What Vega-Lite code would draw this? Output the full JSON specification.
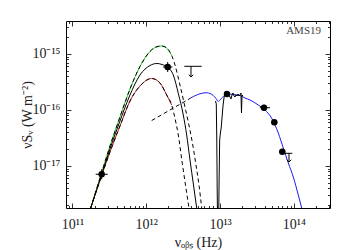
{
  "$schema": "https://vega.github.io/schema/vega-lite/v6.json",
  "width": 264,
  "height": 187,
  "autosize": {"type": "none"},
  "padding": {"left": 66, "top": 21, "right": 20, "bottom": 42},
  "background": "white",
  "config": {
    "view": {"stroke": "black", "strokeWidth": 1},
    "font": "Liberation Serif",
    "axis": {
      "labelFont": "Liberation Serif", "labelFontSize": 14, "labelColor": "#222222",
      "titleFont": "Liberation Serif", "titleFontSize": 14, "titleFontWeight": "normal", "titleColor": "#222222",
      "domain": false, "grid": false, "tickColor": "black", "tickWidth": 0.8,
      "labelOverlap": false, "labelFlush": false
    }
  },
  "datasets": {
    "green": [
      {"nu": 1.765e11, "s": 1.778e-18}, {"nu": 2.487e11, "s": 7.654e-18}, {"nu": 3.222e11, "s": 2.276e-17},
      {"nu": 4.402e11, "s": 7.50e-17}, {"nu": 6.014e11, "s": 2.371e-16}, {"nu": 8.216e11, "s": 5.981e-16},
      {"nu": 1.122e12, "s": 1.108e-15}, {"nu": 1.353e12, "s": 1.334e-15}, {"nu": 1.617e12, "s": 1.390e-15},
      {"nu": 1.849e12, "s": 1.306e-15}, {"nu": 2.195e12, "s": 9.596e-16}
    ],
    "greenDash": [
      {"nu": 1.765e11, "s": 1.778e-18}, {"nu": 2.487e11, "s": 7.654e-18}, {"nu": 3.222e11, "s": 2.276e-17},
      {"nu": 4.402e11, "s": 7.50e-17}, {"nu": 6.014e11, "s": 2.371e-16}, {"nu": 8.216e11, "s": 5.981e-16},
      {"nu": 1.122e12, "s": 1.108e-15}, {"nu": 1.353e12, "s": 1.334e-15}, {"nu": 1.617e12, "s": 1.390e-15},
      {"nu": 1.849e12, "s": 1.306e-15}, {"nu": 2.195e12, "s": 9.596e-16}, {"nu": 2.448e12, "s": 6.362e-16},
      {"nu": 2.861e12, "s": 2.795e-16}, {"nu": 3.345e12, "s": 1.131e-16}, {"nu": 3.731e12, "s": 5.86e-17},
      {"nu": 4.161e12, "s": 2.853e-17}, {"nu": 4.715e12, "s": 1.042e-17}, {"nu": 5.177e12, "s": 4.578e-18},
      {"nu": 5.632e12, "s": 1.778e-18}
    ],
    "red": [
      {"nu": 1.765e11, "s": 1.778e-18}, {"nu": 2.487e11, "s": 6.767e-18}, {"nu": 3.222e11, "s": 1.778e-17},
      {"nu": 4.402e11, "s": 5.18e-17}, {"nu": 6.014e11, "s": 1.448e-16}, {"nu": 8.216e11, "s": 2.683e-16},
      {"nu": 1.184e12, "s": 3.652e-16}, {"nu": 1.533e12, "s": 3.034e-16}, {"nu": 1.890e12, "s": 1.853e-16},
      {"nu": 2.209e12, "s": 1.228e-16}
    ],
    "redDash": [
      {"nu": 1.765e11, "s": 1.778e-18}, {"nu": 2.487e11, "s": 6.767e-18}, {"nu": 3.222e11, "s": 1.778e-17},
      {"nu": 4.402e11, "s": 5.18e-17}, {"nu": 6.014e11, "s": 1.448e-16}, {"nu": 8.216e11, "s": 2.683e-16},
      {"nu": 1.184e12, "s": 3.652e-16}, {"nu": 1.533e12, "s": 3.034e-16}, {"nu": 1.890e12, "s": 1.853e-16},
      {"nu": 2.209e12, "s": 1.228e-16}, {"nu": 2.448e12, "s": 7.11e-17}, {"nu": 2.714e12, "s": 3.58e-17},
      {"nu": 3.075e12, "s": 1.117e-17}, {"nu": 3.398e12, "s": 4.578e-18}, {"nu": 3.790e12, "s": 1.778e-18}
    ],
    "black": [
      {"nu": 1.765e11, "s": 1.778e-18}, {"nu": 2.487e11, "s": 7.109e-18}, {"nu": 3.222e11, "s": 2.012e-17},
      {"nu": 4.402e11, "s": 6.36e-17}, {"nu": 6.014e11, "s": 1.853e-16}, {"nu": 8.216e11, "s": 4.217e-16},
      {"nu": 1.122e12, "s": 6.232e-16}, {"nu": 1.396e12, "s": 6.767e-16}, {"nu": 1.632e12, "s": 6.494e-16},
      {"nu": 1.950e12, "s": 5.787e-16}, {"nu": 2.322e12, "s": 4.217e-16}, {"nu": 2.714e12, "s": 1.987e-16},
      {"nu": 3.173e12, "s": 8.14e-17}, {"nu": 3.527e12, "s": 3.58e-17}, {"nu": 3.910e12, "s": 1.280e-17},
      {"nu": 4.361e12, "s": 4.578e-18}, {"nu": 4.819e12, "s": 1.778e-18}
    ],
    "pl": [
      {"nu": 1.184e12, "s": 6.49e-17}, {"nu": 3.910e12, "s": 1.605e-16}
    ],
    "blue": [
      {"nu": 3.910e12, "s": 1.618e-16}, {"nu": 4.819e12, "s": 1.853e-16}, {"nu": 5.510e12, "s": 1.970e-16},
      {"nu": 6.582e12, "s": 2.037e-16}, {"nu": 7.297e12, "s": 1.970e-16}, {"nu": 8.089e12, "s": 1.815e-16},
      {"nu": 8.800e12, "s": 1.605e-16}, {"nu": 9.455e12, "s": 1.418e-16}, {"nu": 9.968e12, "s": 1.509e-16},
      {"nu": 1.0512e13, "s": 1.618e-16}, {"nu": 1.165e13, "s": 1.853e-16}, {"nu": 1.320e13, "s": 1.931e-16},
      {"nu": 1.510e13, "s": 1.891e-16}, {"nu": 1.860e13, "s": 1.815e-16}, {"nu": 2.175e13, "s": 1.637e-16},
      {"nu": 2.542e13, "s": 1.509e-16}, {"nu": 3.293e13, "s": 1.228e-16}, {"nu": 4.059e13, "s": 1.0e-16},
      {"nu": 5.003e13, "s": 7.11e-17}, {"nu": 6.146e13, "s": 3.88e-17}, {"nu": 7.185e13, "s": 2.097e-17},
      {"nu": 8.398e13, "s": 1.131e-17}, {"nu": 9.815e13, "s": 6.362e-18}, {"nu": 1.147e14, "s": 3.034e-18},
      {"nu": 1.275e14, "s": 1.778e-18}
    ],
    "spec": [
      {"nu": 8.665e12, "s": 1.448e-16}, {"nu": 8.883e12, "s": 1.280e-16}, {"nu": 9.023e12, "s": 2.912e-17},
      {"nu": 9.136e12, "s": 3.727e-18}, {"nu": 9.222e12, "s": 1.334e-18}, {"nu": 9.573e12, "s": 1.334e-18},
      {"nu": 9.723e12, "s": 6.906e-18}, {"nu": 9.876e12, "s": 2.912e-17}, {"nu": 1.0125e13, "s": 4.047e-17},
      {"nu": 1.0349e13, "s": 4.77e-17}, {"nu": 1.061e13, "s": 7.20e-17}, {"nu": 1.0947e13, "s": 1.179e-16},
      {"nu": 1.129e13, "s": 1.637e-16}, {"nu": 1.165e13, "s": 2.012e-16}, {"nu": 1.202e13, "s": 2.184e-16},
      {"nu": 1.240e13, "s": 1.931e-16}, {"nu": 1.279e13, "s": 1.778e-16}, {"nu": 1.320e13, "s": 1.931e-16},
      {"nu": 1.362e13, "s": 1.706e-16}, {"nu": 1.405e13, "s": 1.572e-16}, {"nu": 1.449e13, "s": 1.853e-16},
      {"nu": 1.496e13, "s": 2.012e-16}, {"nu": 1.543e13, "s": 1.778e-16}, {"nu": 1.592e13, "s": 1.706e-16},
      {"nu": 1.642e13, "s": 1.853e-16}, {"nu": 1.694e13, "s": 1.778e-16}, {"nu": 1.748e13, "s": 1.931e-16},
      {"nu": 1.804e13, "s": 1.778e-16}, {"nu": 1.860e13, "s": 1.853e-16}, {"nu": 1.919e13, "s": 2.012e-16},
      {"nu": 1.950e13, "s": 8.84e-17}, {"nu": 1.981e13, "s": 1.853e-16}, {"nu": 2.043e13, "s": 1.778e-16}
    ],
    "pts": [
      {"nu": 2.487e11, "s": 7.109e-18, "nu_lo": 2.063e11, "nu_hi": 2.999e11, "s_lo": 5.787e-18, "s_hi": 8.731e-18},
      {"nu": 1.950e12, "s": 5.860e-16, "nu_lo": 1.684e12, "nu_hi": 2.258e12, "s_lo": 4.771e-16, "s_hi": 7.197e-16},
      {"nu": 1.240e13, "s": 1.931e-16, "nu_lo": 1.129e13, "nu_hi": 1.362e13, "s_lo": 1.706e-16, "s_hi": 2.184e-16},
      {"nu": 3.935e13, "s": 1.099e-16, "nu_lo": 3.473e13, "nu_hi": 4.745e13, "s_lo": 9.72e-17, "s_hi": 1.243e-16},
      {"nu": 5.426e13, "s": 6.03e-17, "nu_lo": 4.940e13, "nu_hi": 5.958e13, "s_lo": 5.33e-17, "s_hi": 6.82e-17},
      {"nu": 6.964e13, "s": 1.800e-17, "nu_lo": 6.341e13, "nu_hi": 7.646e13, "s_lo": 1.591e-17, "s_hi": 2.037e-17}
    ],
    "ul": [
      {"nu": 4.034e12, "s": 6.031e-16, "nu_lo": 3.273e12, "nu_hi": 5.632e12, "s_tip": 3.884e-16},
      {"nu": 8.584e13, "s": 1.685e-17, "nu_lo": 7.458e13, "nu_hi": 9.513e13, "s_tip": 1.179e-17}
    ],
    "label": [
      {"nu": 2.33e14, "s": 2.576e-15, "text": "AMS19"}
    ]
  },
  "layer": [
    {
      "data": {"name": "green"},
      "mark": {"type": "line", "color": "#1fcc1f", "strokeWidth": 1, "interpolate": "monotone", "clip": true},
      "encoding": {
        "x": {"field": "nu", "type": "quantitative", "scale": {"type": "log", "domain": [8.17e10, 3.085e14], "nice": false}, "axis": null},
        "y": {"field": "s", "type": "quantitative", "scale": {"type": "log", "domain": [1.778e-18, 3.884e-15], "nice": false}, "axis": null}
      }
    },
    {
      "data": {"name": "red"},
      "mark": {"type": "line", "color": "#c21f1f", "strokeWidth": 1, "interpolate": "monotone", "clip": true},
      "encoding": {
        "x": {"field": "nu", "type": "quantitative", "scale": {"type": "log", "domain": [8.17e10, 3.085e14], "nice": false}, "axis": null},
        "y": {"field": "s", "type": "quantitative", "scale": {"type": "log", "domain": [1.778e-18, 3.884e-15], "nice": false}, "axis": null}
      }
    },
    {
      "data": {"name": "greenDash"},
      "mark": {"type": "line", "color": "black", "strokeWidth": 1, "strokeDash": [4, 3], "interpolate": "monotone", "clip": true},
      "encoding": {
        "x": {"field": "nu", "type": "quantitative", "scale": {"type": "log", "domain": [8.17e10, 3.085e14], "nice": false}, "axis": null},
        "y": {"field": "s", "type": "quantitative", "scale": {"type": "log", "domain": [1.778e-18, 3.884e-15], "nice": false}, "axis": null}
      }
    },
    {
      "data": {"name": "redDash"},
      "mark": {"type": "line", "color": "black", "strokeWidth": 1, "strokeDash": [4, 3], "interpolate": "monotone", "clip": true},
      "encoding": {
        "x": {"field": "nu", "type": "quantitative", "scale": {"type": "log", "domain": [8.17e10, 3.085e14], "nice": false}, "axis": null},
        "y": {"field": "s", "type": "quantitative", "scale": {"type": "log", "domain": [1.778e-18, 3.884e-15], "nice": false}, "axis": null}
      }
    },
    {
      "data": {"name": "black"},
      "mark": {"type": "line", "color": "black", "strokeWidth": 1, "interpolate": "monotone", "clip": true},
      "encoding": {
        "x": {"field": "nu", "type": "quantitative", "scale": {"type": "log", "domain": [8.17e10, 3.085e14], "nice": false},
          "axis": {
            "orient": "bottom",
            "values": [9e10, 1e11, 2e11, 3e11, 4e11, 5e11, 6e11, 7e11, 8e11, 9e11, 1e12, 2e12, 3e12, 4e12, 5e12, 6e12, 7e12, 8e12, 9e12, 1e13, 2e13, 3e13, 4e13, 5e13, 6e13, 7e13, 8e13, 9e13, 1e14, 2e14, 3e14],
            "labelExpr": "datum.value == 1e11 ? '10¹¹' : datum.value == 1e12 ? '10¹²' : datum.value == 1e13 ? '10¹³' : datum.value == 1e14 ? '10¹⁴' : ''",
            "tickSize": {"condition": {"test": "datum.value == 1e11 || datum.value == 1e12 || datum.value == 1e13 || datum.value == 1e14", "value": -5}, "value": -2.5},
            "labelPadding": 14,
            "title": "νₒᵦₛ (Hz)",
            "titlePadding": 2
          }
        },
        "y": {"field": "s", "type": "quantitative", "scale": {"type": "log", "domain": [1.778e-18, 3.884e-15], "nice": false},
          "axis": {
            "orient": "left",
            "values": [2e-18, 3e-18, 4e-18, 5e-18, 6e-18, 7e-18, 8e-18, 9e-18, 1e-17, 2e-17, 3e-17, 4e-17, 5e-17, 6e-17, 7e-17, 8e-17, 9e-17, 1e-16, 2e-16, 3e-16, 4e-16, 5e-16, 6e-16, 7e-16, 8e-16, 9e-16, 1e-15, 2e-15, 3e-15],
            "labelExpr": "datum.value == 1e-15 ? '10⁻¹⁵' : datum.value == 1e-16 ? '10⁻¹⁶' : datum.value == 1e-17 ? '10⁻¹⁷' : ''",
            "tickSize": {"condition": {"test": "datum.value == 1e-15 || datum.value == 1e-16 || datum.value == 1e-17", "value": -5}, "value": -2.5},
            "labelPadding": 11,
            "labelBaseline": "middle",
            "title": "νSᵥ (W m⁻²)",
            "titlePadding": -3
          }
        }
      }
    },
    {
      "data": {"name": "pl"},
      "mark": {"type": "line", "color": "black", "strokeWidth": 1, "strokeDash": [4, 3], "clip": true},
      "encoding": {
        "x": {"field": "nu", "type": "quantitative", "scale": {"type": "log", "domain": [8.17e10, 3.085e14], "nice": false}, "axis": null},
        "y": {"field": "s", "type": "quantitative", "scale": {"type": "log", "domain": [1.778e-18, 3.884e-15], "nice": false}, "axis": null}
      }
    },
    {
      "data": {"name": "blue"},
      "mark": {"type": "line", "color": "#1a1aee", "strokeWidth": 1, "interpolate": "monotone", "clip": true},
      "encoding": {
        "x": {"field": "nu", "type": "quantitative", "scale": {"type": "log", "domain": [8.17e10, 3.085e14], "nice": false},
          "axis": {
            "orient": "top",
            "values": [9e10, 1e11, 2e11, 3e11, 4e11, 5e11, 6e11, 7e11, 8e11, 9e11, 1e12, 2e12, 3e12, 4e12, 5e12, 6e12, 7e12, 8e12, 9e12, 1e13, 2e13, 3e13, 4e13, 5e13, 6e13, 7e13, 8e13, 9e13, 1e14, 2e14, 3e14],
            "labels": false,
            "tickSize": {"condition": {"test": "datum.value == 1e11 || datum.value == 1e12 || datum.value == 1e13 || datum.value == 1e14", "value": -5}, "value": -2.5},
            "title": null
          }
        },
        "y": {"field": "s", "type": "quantitative", "scale": {"type": "log", "domain": [1.778e-18, 3.884e-15], "nice": false},
          "axis": {
            "orient": "right",
            "values": [2e-18, 3e-18, 4e-18, 5e-18, 6e-18, 7e-18, 8e-18, 9e-18, 1e-17, 2e-17, 3e-17, 4e-17, 5e-17, 6e-17, 7e-17, 8e-17, 9e-17, 1e-16, 2e-16, 3e-16, 4e-16, 5e-16, 6e-16, 7e-16, 8e-16, 9e-16, 1e-15, 2e-15, 3e-15],
            "labels": false,
            "tickSize": {"condition": {"test": "datum.value == 1e-15 || datum.value == 1e-16 || datum.value == 1e-17", "value": -5}, "value": -2.5},
            "title": null
          }
        }
      }
    },
    {
      "data": {"name": "spec"},
      "mark": {"type": "line", "color": "black", "strokeWidth": 1, "clip": true},
      "encoding": {
        "x": {"field": "nu", "type": "quantitative", "scale": {"type": "log", "domain": [8.17e10, 3.085e14], "nice": false}, "axis": null},
        "y": {"field": "s", "type": "quantitative", "scale": {"type": "log", "domain": [1.778e-18, 3.884e-15], "nice": false}, "axis": null}
      }
    },
    {
      "data": {"name": "pts"},
      "mark": {"type": "rule", "color": "black", "strokeWidth": 1},
      "encoding": {
        "x": {"field": "nu_lo", "type": "quantitative", "scale": {"type": "log", "domain": [8.17e10, 3.085e14], "nice": false}, "axis": null},
        "x2": {"field": "nu_hi"},
        "y": {"field": "s", "type": "quantitative", "scale": {"type": "log", "domain": [1.778e-18, 3.884e-15], "nice": false}, "axis": null}
      }
    },
    {
      "data": {"name": "pts"},
      "mark": {"type": "rule", "color": "black", "strokeWidth": 1},
      "encoding": {
        "x": {"field": "nu", "type": "quantitative", "scale": {"type": "log", "domain": [8.17e10, 3.085e14], "nice": false}, "axis": null},
        "y": {"field": "s_lo", "type": "quantitative", "scale": {"type": "log", "domain": [1.778e-18, 3.884e-15], "nice": false}, "axis": null},
        "y2": {"field": "s_hi"}
      }
    },
    {
      "data": {"name": "pts"},
      "mark": {"type": "point", "shape": "circle", "filled": true, "color": "black", "opacity": 1, "size": 42},
      "encoding": {
        "x": {"field": "nu", "type": "quantitative", "scale": {"type": "log", "domain": [8.17e10, 3.085e14], "nice": false}, "axis": null},
        "y": {"field": "s", "type": "quantitative", "scale": {"type": "log", "domain": [1.778e-18, 3.884e-15], "nice": false}, "axis": null}
      }
    },
    {
      "data": {"name": "ul"},
      "mark": {"type": "rule", "color": "black", "strokeWidth": 1},
      "encoding": {
        "x": {"field": "nu_lo", "type": "quantitative", "scale": {"type": "log", "domain": [8.17e10, 3.085e14], "nice": false}, "axis": null},
        "x2": {"field": "nu_hi"},
        "y": {"field": "s", "type": "quantitative", "scale": {"type": "log", "domain": [1.778e-18, 3.884e-15], "nice": false}, "axis": null}
      }
    },
    {
      "data": {"name": "ul"},
      "mark": {"type": "rule", "color": "black", "strokeWidth": 1},
      "encoding": {
        "x": {"field": "nu", "type": "quantitative", "scale": {"type": "log", "domain": [8.17e10, 3.085e14], "nice": false}, "axis": null},
        "y": {"field": "s", "type": "quantitative", "scale": {"type": "log", "domain": [1.778e-18, 3.884e-15], "nice": false}, "axis": null},
        "y2": {"field": "s_tip"}
      }
    },
    {
      "data": {"name": "ul"},
      "mark": {"type": "point", "shape": "M-1,-1L0,0L1,-1", "filled": false, "color": "black", "strokeWidth": 1, "opacity": 1, "size": 20},
      "encoding": {
        "x": {"field": "nu", "type": "quantitative", "scale": {"type": "log", "domain": [8.17e10, 3.085e14], "nice": false}, "axis": null},
        "y": {"field": "s_tip", "type": "quantitative", "scale": {"type": "log", "domain": [1.778e-18, 3.884e-15], "nice": false}, "axis": null}
      }
    },
    {
      "data": {"name": "label"},
      "mark": {"type": "text", "font": "Liberation Serif", "fontSize": 11, "align": "right", "baseline": "middle", "color": "#444444"},
      "encoding": {
        "x": {"field": "nu", "type": "quantitative", "scale": {"type": "log", "domain": [8.17e10, 3.085e14], "nice": false}, "axis": null},
        "y": {"field": "s", "type": "quantitative", "scale": {"type": "log", "domain": [1.778e-18, 3.884e-15], "nice": false}, "axis": null},
        "text": {"field": "text"}
      }
    }
  ],
  "resolve": {"axis": {"x": "independent", "y": "independent"}}
}
